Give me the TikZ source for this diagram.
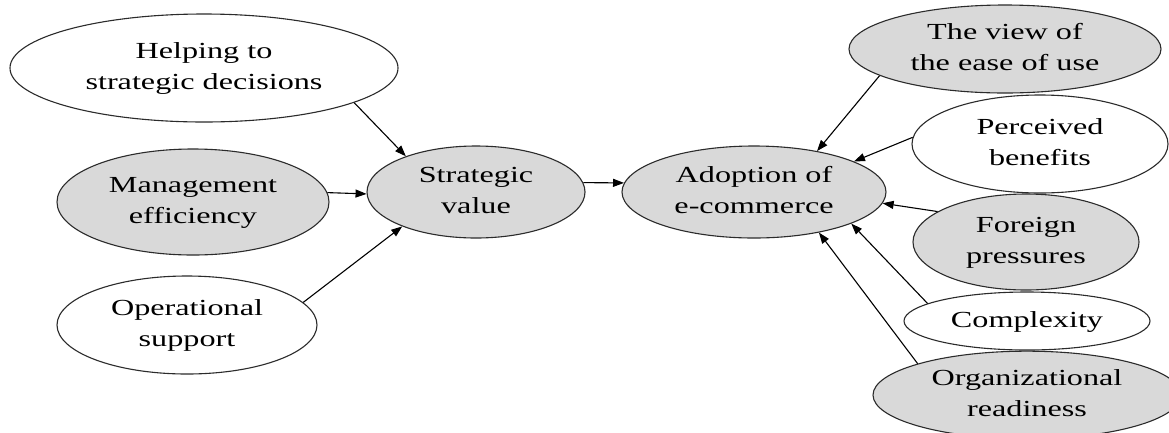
\documentclass[tikz,border=0pt]{standalone}
\usepackage{fontspec}
\setmainfont{Liberation Serif}
\usepackage{graphicx}
\usetikzlibrary{shapes.geometric,arrows.meta}
% text in the ovals is set wide
\newcommand{\wtxt}[1]{\scalebox{1.4}[1]{\begin{tabular}{@{}c@{}}#1\end{tabular}}}
\definecolor{boxgray}{HTML}{D9D9D9}
\definecolor{edgegray}{HTML}{2B2B2B}
\tikzset{
  oval/.style={ellipse, draw=edgegray, line width=1.1pt, inner sep=0pt,
    font=\fontsize{23}{31}\selectfont, text=black},
  filled/.style={oval, fill=boxgray},
  plain/.style={oval, fill=white},
  link/.style={draw=black, line width=1.1pt, -{Triangle[length=11pt,width=8pt]}}
}
\begin{document}
\begin{tikzpicture}[x=1pt,y=-1pt]
\useasboundingbox[fill=white] (0,0) rectangle (1169,432);
\clip (0,0) rectangle (1169,432);

% left-hand factors
\node[plain,  minimum width=388pt, minimum height=108pt] (help) at (204,68)  {\wtxt{Helping to\\strategic decisions}};
\node[filled, minimum width=272pt, minimum height=106pt] (mgmt) at (193,202) {\wtxt{Management\\efficiency}};
\node[plain,  minimum width=260pt, minimum height=98pt]  (oper) at (187,325) {\wtxt{Operational\\support}};

% central constructs
\node[filled, minimum width=218pt, minimum height=92pt]  (sv)   at (476,192) {\wtxt{Strategic\\value}};
\node[filled, minimum width=264pt, minimum height=92pt]  (adopt) at (754,192) {\wtxt{Adoption of\\e-commerce}};

% right-hand factors
\node[filled, minimum width=312pt, minimum height=88pt]  (ease) at (1005,49)  {\wtxt{The view of\\the ease of use}};
\node[plain,  minimum width=256pt, minimum height=98pt]  (bene) at (1040,144) {\wtxt{Perceived\\benefits}};
\node[filled, minimum width=226pt, minimum height=96pt]  (fore) at (1026,242) {\wtxt{Foreign\\pressures}};
\node[plain,  minimum width=246pt, minimum height=58pt]  (comp) at (1027,321) {\wtxt{Complexity}};
\node[filled, minimum width=308pt, minimum height=86pt]  (orgr) at (1027,395) {\wtxt{Organizational\\readiness}};

% connectors
\draw[link] (help.-13) -- (sv.153);
\draw[link] (mgmt.4) -- (sv.181);
\draw[link] (oper.11) -- (sv.205);
\draw[link] (sv.5) -- (adopt.176);
\draw[link] (ease.192) -- (adopt.33);
\draw[link] (bene.177) -- (adopt.17);
\draw[link] (fore.161) -- (adopt.-5);
\draw[link] (comp.170) -- (adopt.-18);
\draw[link] (orgr.164) -- (adopt.-32);
\end{tikzpicture}
\end{document}
